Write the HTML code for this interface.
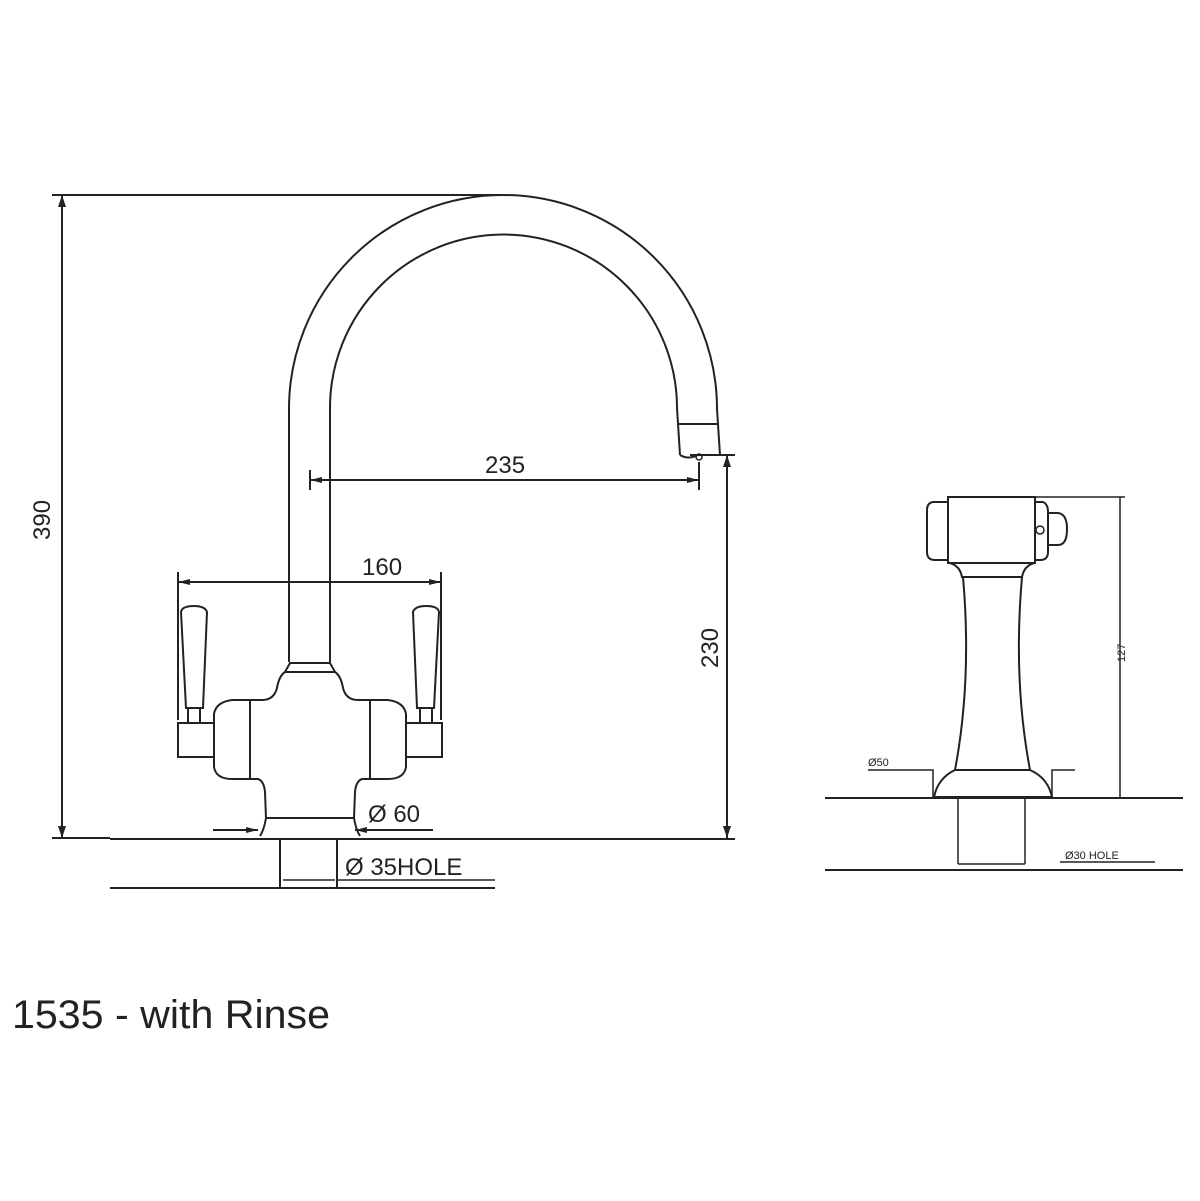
<!DOCTYPE html>
<html><head><meta charset="utf-8"><style>html,body{margin:0;padding:0;background:#fff}svg{display:block}</style></head>
<body>
<svg width="1200" height="1201" viewBox="0 0 1200 1201" xmlns="http://www.w3.org/2000/svg" font-family="Liberation Sans, sans-serif">
<g fill="none" stroke="#222" stroke-width="2">
<path d="M289,662 L289,409 A214,214 0 0 1 717,409 L720,455"/>
<path d="M330,662 L330,408 A173.5,173.5 0 0 1 677,408 L680,455"/>
<path d="M678,424 L719,424 M680,455 Q688,460 698,455 L721,455"/>
<circle cx="699" cy="457" r="3" stroke-width="1.5"/>
<path d="M290,663 L330,663 L335,672 L285,672 Z"/>
<path d="M285,672 Q279,676 277,688 Q274,700 262,700 L232,700 Q216,702 214,714 L214,723 M214,757 L214,767 Q216,779 232,779 L258,779 Q264,781 265,792 L266,818 Q264,830 260,836"/>
<path d="M335,672 Q341,676 343,688 Q346,700 358,700 L388,700 Q404,702 406,714 L406,723 M406,757 L406,767 Q404,779 388,779 L362,779 Q356,781 355,792 L354,818 Q356,830 360,836"/>
<path d="M266,818 L354,818"/>
<path d="M250,700 L250,779 M370,700 L370,779"/>
<rect x="178" y="723" width="36" height="34"/>
<rect x="406" y="723" width="36" height="34"/>
<path d="M186,708 L181,612 Q182,606 194,606 Q205,606 207,612 L203,708 Z M188,708 L188,723 M200,708 L200,723"/>
<path d="M434,708 L439,612 Q438,606 426,606 Q415,606 413,612 L417,708 Z M432,708 L432,723 M420,708 L420,723"/>
<path d="M110,839 L735,839 M110,888 L495,888"/>
<path d="M280,839 L280,888 M337,839 L337,888"/>
<path d="M52,195 L500,195 M62,195 L62,838 M52,838 L110,838"/>
<path d="M310,470 L310,490 M310,480 L699,480 M699,462 L699,490 M690,455 L735,455 M727,455 L727,838"/>
<path d="M178,572 L178,720 M441,572 L441,720 M178,582 L441,582"/>
<path d="M213,830 L258,830 M355,830 L433,830"/>
<path d="M283,880 L335,880 M337,880 L495,880" stroke-width="1.5"/>
</g>
<g fill="#222">
<path d="M62,195 l-4,12 h8z M62,838 l-4,-12 h8z M727,455 l-4,12 h8z M727,838 l-4,-12 h8z"/>
<path d="M310,480 l12,-3 v6z M699,480 l-12,-3 v6z M178,582 l12,-3 v6z M441,582 l-12,-3 v6z"/>
<path d="M258,830 l-12,-3 v6z M355,830 l12,-3 v6z"/>
</g>
<g fill="#222" font-size="24">
<text x="485" y="473">235</text>
<text x="362" y="575">160</text>
<text transform="translate(50,540) rotate(-90)">390</text>
<text transform="translate(718,668) rotate(-90)">230</text>
<text x="368" y="822">Ø 60</text>
<text x="345" y="875">Ø 35HOLE</text>
</g>
<g fill="none" stroke="#222" stroke-width="2">
<path d="M825,798 L1183,798 M825,870 L1183,870"/>
<path d="M958,798 L958,864 M1025,798 L1025,864 M958,864 L1025,864" stroke-width="1.5"/>
<rect x="948" y="497" width="87" height="66"/>
<path d="M948,502 L933,502 Q927,503 927,510 L927,552 Q927,560 935,560 L948,560" />
<path d="M1035,502 L1043,502 Q1048,504 1048,512 L1048,552 Q1048,560 1040,560 L1035,560"/>
<path d="M1048,513 L1058,513 Q1067,514 1067,529 Q1067,545 1058,545 L1048,545"/>
<circle cx="1040" cy="530" r="4" stroke-width="1.5"/>
<path d="M950,563 Q960,566 962,577 L1022,577 Q1024,566 1034,563"/>
<path d="M963,577 Q972,680 955,770 L1030,770 Q1013,680 1022,577"/>
<path d="M955,770 Q938,778 934,797 L1052,797 Q1048,778 1030,770"/>
<path d="M868,770 L933,770 L933,797 M1052,797 L1052,770 L1075,770" stroke-width="1.5"/>
<path d="M948,497 L1125,497 M1120,497 L1120,798" stroke-width="1.5"/>
<path d="M1060,862 L1155,862" stroke-width="1.5"/>
</g>
<g fill="#222" font-size="11">
<text x="868" y="766">Ø50</text>
<text x="1065" y="859">Ø30 HOLE</text>
<text transform="translate(1125,662) rotate(-90)">127</text>
</g>
<text x="12" y="1028" font-size="40" fill="#222" textLength="318" lengthAdjust="spacingAndGlyphs">1535 - with Rinse</text>
</svg>
</body></html>
